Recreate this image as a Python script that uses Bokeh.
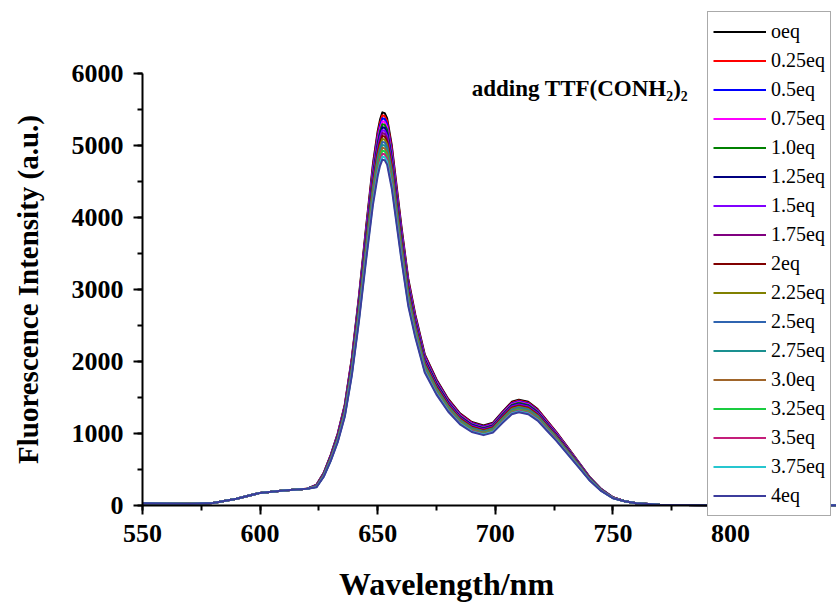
from bokeh.plotting import figure
from bokeh.models import Legend, LegendItem, SingleIntervalTicker, Label
from bokeh.embed import file_html
from bokeh.resources import INLINE

# ---------------- data ----------------
WAVELENGTH = [550, 560, 570, 580, 590, 600, 610, 620, 624, 627, 630, 633, 636, 639, 642, 645,
              648, 650, 651, 652, 653, 654, 656, 658, 660, 663, 666, 670, 675, 680, 685, 690,
              695, 699, 703, 707, 710, 714, 718, 722, 726, 731, 736, 740, 745, 750, 755, 760,
              770, 780, 800, 845]

LOW = [30, 28, 25, 35, 95, 175, 208, 232]          # 550-620 nm, same for all series
TAIL = [60, 30, 12, 6, 5, 5]                        # 755-845 nm, same for all series

I_0EQ = [290, 450, 700, 1000, 1400, 2050, 2900, 3850, 4750, 5200, 5360, 5460, 5450, 5380, 5000, 4450, 3900, 3150, 2650, 2100, 1750, 1480, 1280, 1160, 1110, 1150, 1300, 1440, 1470, 1440, 1340, 1180, 1020, 800, 580, 400, 230, 115]
I_025EQ = [288, 447, 695, 993, 1390, 2035, 2878, 3821, 4714, 5161, 5320, 5419, 5409, 5340, 4963, 4417, 3871, 3126, 2630, 2084, 1737, 1469, 1270, 1151, 1102, 1141, 1290, 1429, 1459, 1429, 1330, 1171, 1012, 794, 576, 397, 228, 114]
I_05EQ = [286, 443, 690, 985, 1379, 2019, 2857, 3792, 4679, 5122, 5280, 5378, 5368, 5299, 4925, 4383, 3842, 3103, 2610, 2069, 1724, 1458, 1261, 1143, 1093, 1133, 1281, 1418, 1448, 1418, 1320, 1162, 1005, 788, 571, 394, 227, 113]
I_075EQ = [283, 440, 684, 978, 1369, 2004, 2835, 3763, 4643, 5083, 5239, 5337, 5327, 5259, 4888, 4350, 3812, 3079, 2590, 2053, 1711, 1447, 1251, 1134, 1085, 1124, 1271, 1408, 1437, 1408, 1310, 1153, 997, 782, 567, 391, 225, 112]
I_10EQ = [281, 436, 679, 970, 1358, 1989, 2813, 3735, 4608, 5044, 5199, 5296, 5287, 5219, 4850, 4317, 3783, 3056, 2571, 2037, 1698, 1436, 1242, 1125, 1077, 1116, 1261, 1397, 1426, 1397, 1300, 1145, 989, 776, 563, 388, 223, 112]
I_125EQ = [279, 433, 674, 963, 1348, 1973, 2791, 3706, 4572, 5005, 5159, 5255, 5246, 5178, 4813, 4283, 3754, 3032, 2551, 2021, 1684, 1425, 1232, 1117, 1068, 1107, 1251, 1386, 1415, 1386, 1290, 1136, 982, 770, 558, 385, 221, 111]
I_15EQ = [277, 430, 669, 955, 1337, 1958, 2770, 3677, 4536, 4966, 5119, 5214, 5205, 5138, 4775, 4250, 3725, 3008, 2531, 2006, 1671, 1413, 1222, 1108, 1060, 1098, 1242, 1375, 1404, 1375, 1280, 1127, 974, 764, 554, 382, 220, 110]
I_175EQ = [275, 426, 663, 948, 1327, 1942, 2748, 3648, 4501, 4927, 5079, 5173, 5164, 5098, 4738, 4216, 3695, 2985, 2511, 1990, 1658, 1402, 1213, 1099, 1052, 1090, 1232, 1364, 1393, 1364, 1270, 1118, 966, 758, 550, 379, 218, 109]
I_2EQ = [272, 423, 658, 940, 1316, 1927, 2726, 3619, 4465, 4888, 5038, 5132, 5123, 5057, 4700, 4183, 3666, 2961, 2491, 1974, 1645, 1391, 1203, 1090, 1043, 1081, 1222, 1354, 1382, 1354, 1260, 1109, 959, 752, 545, 376, 216, 108]
I_225EQ = [270, 419, 653, 933, 1306, 1912, 2704, 3590, 4429, 4849, 4998, 5091, 5082, 5017, 4663, 4150, 3637, 2937, 2471, 1958, 1632, 1380, 1194, 1082, 1035, 1072, 1212, 1343, 1371, 1343, 1250, 1100, 951, 746, 541, 373, 215, 107]
I_25EQ = [268, 416, 648, 925, 1295, 1896, 2683, 3561, 4394, 4810, 4958, 5050, 5041, 4977, 4625, 4116, 3608, 2914, 2451, 1943, 1619, 1369, 1184, 1073, 1027, 1064, 1203, 1332, 1360, 1332, 1240, 1092, 944, 740, 537, 370, 213, 106]
I_275EQ = [266, 413, 642, 918, 1285, 1881, 2661, 3532, 4358, 4771, 4918, 5009, 5000, 4936, 4588, 4083, 3578, 2890, 2431, 1927, 1606, 1358, 1174, 1064, 1018, 1055, 1193, 1321, 1349, 1321, 1229, 1083, 936, 734, 532, 367, 211, 106]
I_30EQ = [264, 409, 637, 910, 1274, 1866, 2639, 3504, 4323, 4732, 4878, 4968, 4960, 4896, 4550, 4050, 3549, 2867, 2412, 1911, 1593, 1347, 1165, 1056, 1010, 1047, 1183, 1310, 1338, 1310, 1219, 1074, 928, 728, 528, 364, 209, 105]
I_325EQ = [261, 406, 632, 903, 1264, 1850, 2617, 3475, 4287, 4693, 4837, 4927, 4919, 4855, 4513, 4016, 3520, 2843, 2392, 1895, 1579, 1336, 1155, 1047, 1002, 1038, 1173, 1300, 1327, 1300, 1209, 1065, 921, 722, 523, 361, 208, 104]
I_35EQ = [259, 402, 627, 895, 1253, 1835, 2596, 3446, 4251, 4654, 4797, 4886, 4878, 4815, 4475, 3983, 3491, 2819, 2372, 1880, 1566, 1325, 1146, 1038, 993, 1029, 1164, 1289, 1316, 1289, 1199, 1056, 913, 716, 519, 358, 206, 103]
I_375EQ = [257, 399, 621, 888, 1243, 1819, 2574, 3417, 4216, 4615, 4757, 4845, 4837, 4775, 4438, 3949, 3461, 2796, 2352, 1864, 1553, 1314, 1136, 1030, 985, 1021, 1154, 1278, 1305, 1278, 1189, 1047, 905, 710, 515, 355, 204, 102]
I_4EQ = [255, 396, 616, 880, 1232, 1804, 2552, 3388, 4180, 4576, 4717, 4804, 4796, 4734, 4400, 3916, 3432, 2772, 2332, 1848, 1540, 1302, 1126, 1021, 977, 1012, 1144, 1267, 1294, 1267, 1179, 1038, 898, 704, 510, 352, 202, 101]

SERIES = [I_0EQ, I_025EQ, I_05EQ, I_075EQ, I_10EQ, I_125EQ, I_15EQ, I_175EQ, I_2EQ,
          I_225EQ, I_25EQ, I_275EQ, I_30EQ, I_325EQ, I_35EQ, I_375EQ, I_4EQ]
LABELS = ["oeq", "0.25eq", "0.5eq", "0.75eq", "1.0eq", "1.25eq", "1.5eq", "1.75eq", "2eq",
          "2.25eq", "2.5eq", "2.75eq", "3.0eq", "3.25eq", "3.5eq", "3.75eq", "4eq"]
COLORS = ["#000000", "#FF0000", "#0000FF", "#FF00FF", "#008000", "#000080", "#8000FF",
          "#800080", "#800000", "#808000", "#2F64B0", "#1A9090", "#A0652A", "#1ACC40",
          "#C41E7A", "#26C6CF", "#3C3C9C"]

X_TICK_STEP = 50
Y_TICK_STEP = 1000
X_AXIS_BOUNDS = (550, 808.5)
Y_AXIS_BOUNDS = (0, 6000)
ANNOTATION = "adding TTF(CONH\u2082)\u2082"
ANNOT_X, ANNOT_Y = 690, 5790

# ---------------- figure ----------------
SERIF = "Liberation Serif"
W, H = 836, 603
p = figure(width=W, height=H, x_range=(489.63, 845.07), y_range=(-1361.1, 6902.8),
           output_backend="svg", toolbar_location=None,
           min_border_left=0, min_border_right=0, min_border_top=8, min_border_bottom=0,
           x_axis_label="Wavelength/nm", y_axis_label="Fluorescence Intensity (a.u.)")
p.outline_line_color = None
p.grid.visible = False
p.background_fill_color = "white"
p.border_fill_color = "white"

p.xaxis.fixed_location = 0
p.yaxis.fixed_location = 550
p.xaxis.bounds = X_AXIS_BOUNDS
p.yaxis.bounds = Y_AXIS_BOUNDS
p.xaxis.ticker = SingleIntervalTicker(interval=X_TICK_STEP, num_minor_ticks=2)
p.yaxis.ticker = SingleIntervalTicker(interval=Y_TICK_STEP, num_minor_ticks=2)
for ax in (p.xaxis[0], p.yaxis[0]):
    ax.axis_line_width = 2
    ax.axis_line_color = "black"
    ax.major_tick_line_width = 2
    ax.minor_tick_line_width = 2
    ax.major_tick_in = 0
    ax.major_tick_out = 9
    ax.minor_tick_in = 0
    ax.minor_tick_out = 5
    ax.major_label_text_font = SERIF
    ax.major_label_text_font_style = "bold"
    ax.major_label_text_font_size = "26px"
    ax.major_label_text_color = "black"
    ax.axis_label_text_font = SERIF
    ax.axis_label_text_font_style = "bold"
    ax.axis_label_text_color = "black"
p.xaxis[0].axis_label_text_font_size = "32px"
p.yaxis[0].axis_label_text_font_size = "29px"
p.xaxis[0].major_label_standoff = 10
p.xaxis[0].axis_label_standoff = 21
p.yaxis[0].major_label_standoff = 10
p.yaxis[0].axis_label_standoff = 25

items = []
for ys, lab, col in zip(SERIES, LABELS, COLORS):
    full = LOW + ys + TAIL
    r = p.line(WAVELENGTH, full, line_color=col, line_width=2, line_join="round")
    items.append(LegendItem(label=lab, renderers=[r]))

legend = Legend(items=items, location=(707, 87), margin=0, padding=5, spacing=0,
                glyph_width=53, glyph_height=29, label_height=29, label_standoff=5,
                label_text_font=SERIF, label_text_font_size="20px", label_text_color="black",
                border_line_color="#555555", border_line_width=1.5,
                background_fill_color="white", background_fill_alpha=1.0)
p.add_layout(legend)

p.add_layout(Label(x=ANNOT_X, y=ANNOT_Y, text=ANNOTATION, text_font=SERIF,
                   text_font_style="bold", text_font_size="23px", text_color="black",
                   text_baseline="alphabetic"))

open("out.html", "w").write(file_html(p, INLINE))
